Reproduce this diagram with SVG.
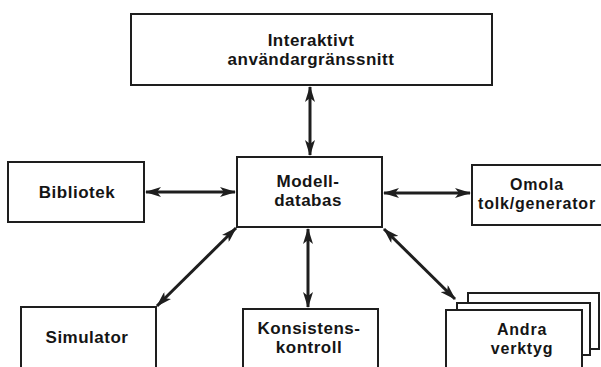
<svg xmlns="http://www.w3.org/2000/svg" width="601" height="367" viewBox="0 0 601 367">
  <style>
    .box { fill: #ffffff; stroke: #1e1e1e; stroke-width: 2; }
    .lbl { font-family: "Liberation Sans", Arial, sans-serif; font-weight: bold; font-size: 17px; letter-spacing: 0.5px; fill: #151515; text-anchor: middle; }
    .sm { font-size: 16px; letter-spacing: 0.8px; }
    .link { stroke: #1e1e1e; stroke-width: 3; fill: none; marker-start: url(#head); marker-end: url(#head); }
  </style>
  <defs>
    <marker id="head" viewBox="0 0 16 10" refX="15" refY="5" markerWidth="16" markerHeight="10" markerUnits="userSpaceOnUse" orient="auto-start-reverse">
      <path d="M0,0 L16,5 L0,10 L4,5 Z" fill="#1e1e1e"/>
    </marker>
  </defs>
  <rect width="601" height="367" fill="#ffffff"/>

  <g id="connectors">
    <line class="link" x1="310" y1="87" x2="310" y2="155"/>
    <line class="link" x1="146" y1="192" x2="235" y2="192"/>
    <line class="link" x1="384" y1="193" x2="470" y2="193"/>
    <line class="link" x1="157" y1="306" x2="236" y2="228"/>
    <line class="link" x1="308" y1="229" x2="308" y2="307"/>
    <line class="link" x1="384" y1="229" x2="455" y2="299"/>
  </g>

  <g id="ui">
    <rect class="box" x="131" y="14" width="361" height="71"/>
    <text class="lbl" x="311" y="46">Interaktivt</text>
    <text class="lbl" x="311" y="65">användargränssnitt</text>
  </g>

  <g id="modelldatabas">
    <rect class="box" x="237" y="157" width="145" height="70"/>
    <text class="lbl" x="308" y="187">Modell-</text>
    <text class="lbl" x="308" y="206">databas</text>
  </g>

  <g id="bibliotek">
    <rect class="box" x="8" y="162" width="136" height="60"/>
    <text class="lbl" x="77" y="198">Bibliotek</text>
  </g>

  <g id="omola">
    <rect class="box" x="472" y="165" width="140" height="60"/>
    <text class="lbl sm" x="537" y="190">Omola</text>
    <text class="lbl sm" x="537" y="209">tolk/generator</text>
  </g>

  <g id="simulator">
    <rect class="box" x="21" y="307" width="135" height="70"/>
    <text class="lbl" x="87" y="343">Simulator</text>
  </g>

  <g id="konsistenskontroll">
    <rect class="box" x="243" y="309" width="135" height="70"/>
    <text class="lbl" x="309" y="334">Konsistens-</text>
    <text class="lbl" x="309" y="353">kontroll</text>
  </g>

  <g id="andra-verktyg">
    <rect class="box" x="468" y="293" width="131" height="56"/>
    <rect class="box" x="457" y="303" width="133" height="52"/>
    <rect class="box" x="446" y="310" width="136" height="70"/>
    <text class="lbl sm" x="522" y="335">Andra</text>
    <text class="lbl sm" x="522" y="354">verktyg</text>
  </g>
</svg>
